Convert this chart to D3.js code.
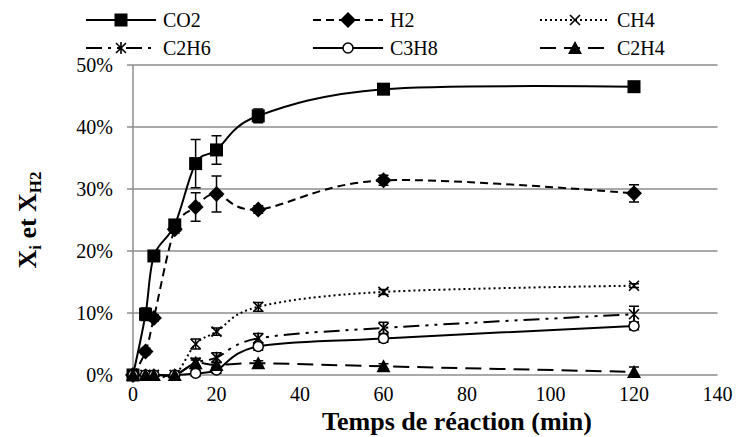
<!DOCTYPE html>
<html><head><meta charset="utf-8">
<script src="https://cdn.jsdelivr.net/npm/d3@7"></script>
<style>body{margin:0;background:#fff}svg{display:block}</style>
</head><body><svg id="c" width="737" height="437" font-family="'Times New Roman', 'Liberation Serif', 'DejaVu Serif', serif"></svg>
<script>
const times = [0, 3, 5, 10, 15, 20, 30, 60, 120];
const seriesNames = ["CO2", "H2", "CH4", "C2H6", "C3H8", "C2H4"];
const co2  = [0, 9.8, 19.2, 24.2, 34.1, 36.3, 41.8, 46.1, 46.5];
const h2   = [0, 3.8, 9.2, 23.5, 27.1, 29.2, 26.7, 31.4, 29.3];
const ch4  = [0, 0, 0, 0, 5.0, 7.0, 11.0, 13.4, 14.4];
const c2h6 = [0, 0, 0, 0, 2.0, 2.8, 5.9, 7.6, 9.8];
const c3h8 = [0, 0, 0, 0, 0.3, 0.8, 4.6, 5.9, 7.9];
const c2h4 = [0, 0, 0, 0, 1.9, 1.6, 1.9, 1.4, 0.5];
const errCo2  = [0, 1.0, 0.5, 0.6, 3.9, 2.3, 1.1, 0.5, 0.4];
const errH2   = [0, 0.5, 0.5, 0.6, 2.3, 2.9, 0.6, 0.8, 1.4];
const errCh4  = [0, 0, 0, 0, 0.8, 0.6, 0.7, 0.4, 0.3];
const errC2h6 = [0, 0, 0, 0, 0.7, 0.8, 0.8, 0.9, 1.3];
const errC3h8 = [0, 0, 0, 0, 0.5, 0.5, 0.6, 0.6, 0.6];
const errC2h4 = [0, 0, 0, 0, 0.5, 0.4, 0.4, 0.4, 0.8];
const xTicks = [0, 20, 40, 60, 80, 100, 120, 140];
const yTicks = [0, 10, 20, 30, 40, 50];

const values = [co2, h2, ch4, c2h6, c3h8, c2h4];
const errors = [errCo2, errH2, errCh4, errC2h6, errC3h8, errC2h4];
const styles = [
  {dash: null, marker: "square"},
  {dash: "8,5", marker: "diamond"},
  {dash: "2,3", marker: "cross"},
  {dash: "16,6,3,6,3,6", marker: "star"},
  {dash: null, marker: "circle"},
  {dash: "16,8", marker: "triangle"}
];

const svg = d3.select("#c");
const x = d3.scaleLinear().domain([0, 140]).range([133, 717.5]);
const y = d3.scaleLinear().domain([0, 50]).range([375, 65]);

svg.append("g").selectAll("line").data(yTicks).join("line")
  .attr("x1", x(0)).attr("x2", x(140))
  .attr("y1", d => y(d)).attr("y2", d => y(d))
  .attr("stroke", "#8c8c8c").attr("stroke-width", 1.5);
svg.append("line").attr("x1", x(0)).attr("x2", x(0)).attr("y1", y(0)).attr("y2", y(50))
  .attr("stroke", "#8c8c8c").attr("stroke-width", 1.5);
svg.append("g").selectAll("line").data(yTicks).join("line")
  .attr("x1", x(0) - 6).attr("x2", x(0)).attr("y1", d => y(d)).attr("y2", d => y(d))
  .attr("stroke", "#8c8c8c").attr("stroke-width", 1.5);
svg.append("g").selectAll("text").data(yTicks).join("text")
  .attr("x", 113).attr("y", d => y(d) + 7).attr("text-anchor", "end")
  .attr("font-size", 20).text(d => d + "%");
svg.append("g").selectAll("text").data(xTicks).join("text")
  .attr("x", d => x(d)).attr("y", 401).attr("text-anchor", "middle")
  .attr("font-size", 20).text(d => d);

svg.append("text").attr("x", 457).attr("y", 430).attr("text-anchor", "middle")
  .attr("font-size", 26).attr("font-weight", "bold").text("Temps de réaction (min)");
const yt = svg.append("text").attr("transform", "translate(36,220) rotate(-90)")
  .attr("text-anchor", "middle").attr("font-size", 26).attr("font-weight", "bold");
yt.append("tspan").text("X");
yt.append("tspan").attr("font-size", 17).attr("dy", 5).text("i");
yt.append("tspan").attr("dy", -5).text(" et X");
yt.append("tspan").attr("font-size", 17).attr("dy", 5).text("H2");

function drawMarker(g, type, cx, cy) {
  if (type === "square") {
    g.append("rect").attr("x", cx - 6.5).attr("y", cy - 6.5).attr("width", 13).attr("height", 13).attr("fill", "#000");
  } else if (type === "diamond") {
    g.append("path").attr("d", `M${cx},${cy-8}L${cx+8},${cy}L${cx},${cy+8}L${cx-8},${cy}Z`).attr("fill", "#000");
  } else if (type === "triangle") {
    g.append("path").attr("d", `M${cx},${cy-7}L${cx+7},${cy+6}L${cx-7},${cy+6}Z`).attr("fill", "#000");
  } else if (type === "circle") {
    g.append("circle").attr("cx", cx).attr("cy", cy).attr("r", 5).attr("fill", "#fff").attr("stroke", "#000").attr("stroke-width", 1.5);
  } else if (type === "cross") {
    g.append("path").attr("d", `M${cx-5},${cy-5}L${cx+5},${cy+5}M${cx+5},${cy-5}L${cx-5},${cy+5}`).attr("stroke", "#000").attr("stroke-width", 1.6);
  } else if (type === "star") {
    g.append("path").attr("d", `M${cx-5},${cy-5}L${cx+5},${cy+5}M${cx+5},${cy-5}L${cx-5},${cy+5}M${cx},${cy-6}L${cx},${cy+6}`).attr("stroke", "#000").attr("stroke-width", 1.6);
  }
}

const line = d3.line().x((d, i) => x(times[i])).y(d => y(d)).curve(d3.curveCatmullRom.alpha(0));
const plot = svg.append("g");
values.forEach((vals, s) => {
  plot.append("path").attr("d", line(vals)).attr("fill", "none").attr("stroke", "#000")
    .attr("stroke-width", 2).attr("stroke-dasharray", styles[s].dash);
});
values.forEach((vals, s) => {
  const g = plot.append("g");
  vals.forEach((v, i) => {
    const e = errors[s][i];
    const cx = x(times[i]);
    if (e > 0) {
      g.append("path").attr("d", `M${cx},${y(v+e)}L${cx},${y(v-e)}M${cx-5},${y(v+e)}L${cx+5},${y(v+e)}M${cx-5},${y(v-e)}L${cx+5},${y(v-e)}`)
        .attr("stroke", "#000").attr("stroke-width", 1.5).attr("fill", "none");
    }
    drawMarker(g, styles[s].marker, cx, y(v));
  });
});

const legX = [163, 390, 617];
const legY = [20, 48];
seriesNames.forEach((name, s) => {
  const tx = legX[s % 3], ty = legY[Math.floor(s / 3)];
  const g = svg.append("g");
  g.append("line").attr("x1", tx - 77).attr("x2", tx - 7).attr("y1", ty).attr("y2", ty)
    .attr("stroke", "#000").attr("stroke-width", 2).attr("stroke-dasharray", styles[s].dash);
  drawMarker(g, styles[s].marker, tx - 42, ty);
  g.append("text").attr("x", tx).attr("y", ty + 7).attr("font-size", 20).text(name);
});
</script></body></html>
